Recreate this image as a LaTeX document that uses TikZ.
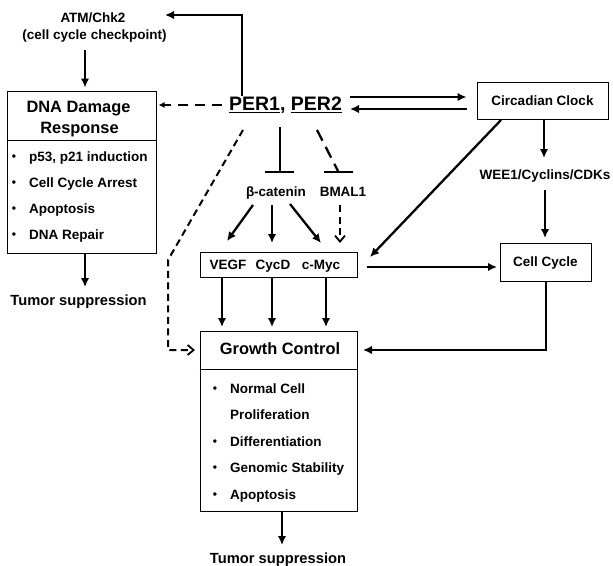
\documentclass[tikz,border=0pt]{standalone}
\usepackage{fontspec}
\setmainfont{Liberation Sans}
\usetikzlibrary{arrows.meta}
\newcommand\myul[1]{\setbox0\hbox{#1}\rlap{\rule[-3.2pt]{\wd0}{1.4pt}}\box0}
\begin{document}
\begin{tikzpicture}[x=1pt,y=-1pt,
  every node/.style={inner sep=0pt},
  t/.style={font=\bfseries\fontsize{13.5}{16}\selectfont, text height=9.7pt, text depth=0pt},
  big/.style={font=\bfseries\fontsize{16.4}{20}\selectfont, text height=11.8pt, text depth=0pt},
  tum/.style={font=\bfseries\fontsize{14.7}{18}\selectfont, text height=10.6pt, text depth=0pt},
  pertext/.style={font=\bfseries\fontsize{19.5}{22}\selectfont, text height=14pt, text depth=0pt},
  box/.style={draw, line width=1pt},
  arr/.style={line width=2.3pt, -{Latex[length=9pt,width=8.5pt]}},
  inh/.style={line width=2.3pt},
  darr/.style={line width=2.3pt, dash pattern=on 10pt off 7pt, -{Latex[length=6pt,width=6pt]}},
  oarr/.style={line width=2pt, dash pattern=on 7pt off 4.5pt, -{Straight Barb[length=6pt,width=10pt,line width=1.8pt]}},
  dinh/.style={line width=2.3pt, dash pattern=on 12pt off 7pt},
  bul/.style={font=\bfseries\fontsize{12}{14}\selectfont, text height=6pt, text depth=0pt}
]
\useasboundingbox[fill=white] (0,0) rectangle (613,565);

% ATM
\node[t] (atm1) at (93,18) {ATM/Chk2};
\node[t] (atm2) at (94.5,35) {(cell cycle checkpoint)};

% DNA damage box
\node[box, minimum width=149pt, minimum height=162pt] (dna) at (81.5,172) {};
\draw[box] (dna.west |- 0,140) -- (dna.east |- 0,140);
\node[big] (dna1) at (78.5,107) {DNA Damage};
\node[big] (dna2) at (79.5,128) {Response};
\foreach \yy/\txt in {157/{p53, p21 induction},183/{Cell Cycle Arrest},209/{Apoptosis},235/{DNA Repair}}{
  \node[bul] at (14,\yy) {\textbullet};
  \node[t, anchor=west] at (29,\yy) {\txt};
}
\node[tum] (tum1) at (78.5,300) {Tumor suppression};

% PER
\node[pertext] (per) at (285.5,103) {\myul{PER1}, \myul{PER2}};

% Circadian clock
\node[box, t, minimum width=131pt, minimum height=37pt] (clock) at (542.5,100.5) {Circadian Clock};

% beta-catenin, BMAL1
\node[t] (bcat) at (276,192) {β-catenin};
\node[t] (bmal) at (343,192) {BMAL1};

% genes box
\node[box, minimum width=157pt, minimum height=25pt] (genes) at (278.5,264.5) {};
\node[t] (vegf) at (228,265) {VEGF};
\node[t] (cycd) at (273,265) {CycD};
\node[t] (myc) at (321,265) {c-Myc};

% WEE1 and Cell cycle
\node[t] (wee) at (545,175) {WEE1/Cyclins/CDKs};
\node[box, t, minimum width=91pt, minimum height=38pt] (cc) at (545.5,262) {Cell Cycle};

% Growth control
\node[box, minimum width=157pt, minimum height=180pt] (gc) at (278.5,421) {};
\draw[box] (gc.west |- 0,369) -- (gc.east |- 0,369);
\node[big] (gct) at (280,349) {Growth Control};
\foreach \yy/\txt/\b in {389/{Normal Cell}/1,415/{Proliferation}/0,442/{Differentiation}/1,468/{Genomic Stability}/1,495/{Apoptosis}/1}{
  \ifnum\b=1 \node[bul] at (215,\yy) {\textbullet};\fi
  \node[t, anchor=west] at (230,\yy) {\txt};
}
\node[tum] (tum2) at (278,558) {Tumor suppression};

% coordinates
\coordinate (atmin) at (165,15);
\coordinate (atmout) at (85,50);

% connectors
\draw[arr] (per.north -| 242,0) |- (atmin);
\draw[arr] (atmout) -- ([yshift=3pt]dna.north -| atmout);
\draw[arr] (dna.south -| atmout) -- (85,287);
\draw[darr] (222,105) -- ([xshift=2pt]dna.east |- 0,105);
\draw[arr] (350,97) -- ([xshift=-10pt]clock.west |- 0,97);
\draw[arr] ([xshift=-10pt]clock.west |- 0,109) -- (350,109);
% inhibitions
\draw[inh] (280,127) -- (280,172) (265,172) -- (294,172);
\draw[dinh] (317,130) -- (338,171);
\draw[inh] (324,172) -- (353,172);
% beta-catenin targets
\draw[arr] (253,205) -- (227,241);
\draw[arr] (272,205) -- (272,243);
\draw[arr] (290,204) -- (321,243);
\draw[oarr] (340,205) -- (340,243);
% clock
\draw[arr] (clock.south -| 544,0) -- (544,158);
\draw[arr] (545,190) -- (545,238);
\draw[arr] (501,120) -- (370,257);
\draw[arr] (367,267) -- (497,267);
% into growth control
\draw[arr] (222,277) -- (222,327);
\draw[arr] (272,277) -- (272,327);
\draw[arr] (326,277) -- (326,327);
\draw[arr] (cc.south -| 546,0) |- (363,350);
\draw[oarr] (243,130) -- (168,260) -- (168,350) -- (195,350);
\draw[arr] (gc.south -| 282,0) -- (282,545);
\end{tikzpicture}
\end{document}
